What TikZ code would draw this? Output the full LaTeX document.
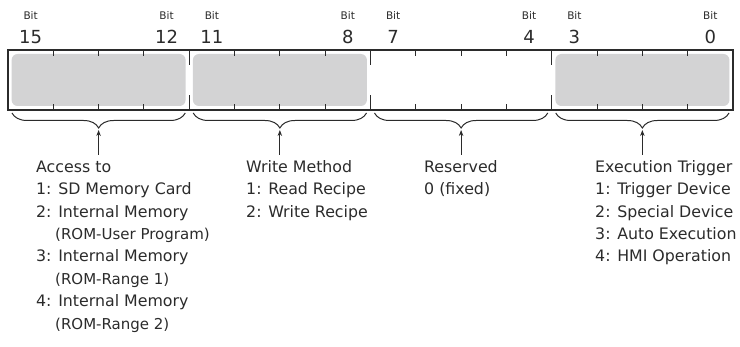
\documentclass[tikz,border=0pt]{standalone}
\usepackage{fontspec}
\setmainfont{DejaVu Sans}
\usetikzlibrary{decorations.pathreplacing,arrows.meta}
\definecolor{ink}{HTML}{2B2B2B}
\definecolor{fieldgray}{HTML}{D3D3D4}
\begin{document}
\begin{tikzpicture}[x=1pt,y=-1pt,
  lbl/.style={anchor=base west,inner sep=0pt,text=ink,font=\fontsize{15.8}{18}\selectfont},
  sublbl/.style={anchor=base west,inner sep=0pt,text=ink,font=\fontsize{15}{17}\selectfont},
  bitword/.style={anchor=base,inner sep=0pt,text=ink,font=\fontsize{10.5}{12}\selectfont},
  bitnum/.style={anchor=base,inner sep=0pt,text=ink,font=\fontsize{18}{20}\selectfont},
  field/.style={fill=fieldgray,rounded corners=6pt,draw=none,inner sep=0pt,minimum width=174pt,minimum height=52pt},
  regbox/.style={draw=ink,line width=1.2pt,inner sep=0pt,minimum width=725pt,minimum height=60pt},
  tickline/.style={draw=ink,line width=1pt},
  fbrace/.style={draw=ink,line width=1pt,decorate,decoration={brace,mirror,amplitude=15pt}},
  uparrow/.style={draw=ink,line width=1pt,-{Stealth[length=6pt,width=4.5pt]}}
]
\useasboundingbox (0,0) rectangle (740,347);

% gray fields
\node[field] (f1) at (98.6,80) {};
\node[field] (f2) at (279.9,80) {};
\node[field] (f4) at (642.4,80) {};

% register outline
\node[regbox] (reg) at (370.5,80) {};

% ticks
\foreach \k in {1,2,3,5,6,7,9,10,11,13,14,15}{
  \coordinate (tt\k) at ({8+45.3125*\k},50);
  \coordinate (tb\k) at ({8+45.3125*\k},110);
  \draw[tickline] (tt\k) -- ++(0,6);
  \draw[tickline] (tb\k) -- ++(0,-6);
}
\foreach \k in {4,8,12}{
  \coordinate (st\k) at ({8+45.3125*\k},50);
  \coordinate (sb\k) at ({8+45.3125*\k},110);
  \draw[tickline] (st\k) -- ++(0,15);
  \draw[tickline] (sb\k) -- ++(0,-15);
}

% bit labels
\foreach \b in {15,12,11,8,7,4,3,0}{
  \node[bitword] (bw\b) at ({8+45.3125*(15-\b+0.5)},20) {Bit};
  \node[bitnum] (bn\b) at ({8+45.3125*(15-\b+0.5)},43.3) {\b};
}

% braces and arrows
\foreach \i in {1,2,3,4}{
  \coordinate (bl\i) at ({8+181.25*(\i-1)+4},113);
  \coordinate (br\i) at ({8+181.25*(\i-1)+177.25},113);
  \coordinate (tip\i) at ({8+181.25*(\i-1)+90.6},130);
  \coordinate (tail\i) at ({8+181.25*(\i-1)+90.6},155);
  \draw[fbrace] (bl\i) -- (br\i);
  \draw[uparrow] (tail\i) -- (tip\i);
}

% texts group 1
\node[lbl] (a0) at (36,172.3) {Access to};
\node[lbl] (a1) at (36,194.7) {1: SD Memory Card};
\node[lbl] (a2) at (36,217.1) {2: Internal Memory};
\node[sublbl] (a2s) at (55,239.5) {(ROM-User Program)};
\node[lbl] (a3) at (36,261.9) {3: Internal Memory};
\node[sublbl] (a3s) at (55,284.3) {(ROM-Range 1)};
\node[lbl] (a4) at (36,306.7) {4: Internal Memory};
\node[sublbl] (a4s) at (55,329.1) {(ROM-Range 2)};

% group 2
\node[lbl] (w0) at (246,172.3) {Write Method};
\node[lbl] (w1) at (246,194.7) {1: Read Recipe};
\node[lbl] (w2) at (246,217.1) {2: Write Recipe};

% group 3
\node[lbl] (r0) at (424,172.3) {Reserved};
\node[lbl] (r1) at (424,194.7) {0 (fixed)};

% group 4
\node[lbl] (e0) at (595,172.3) {Execution Trigger};
\node[lbl] (e1) at (595,194.7) {1: Trigger Device};
\node[lbl] (e2) at (595,217.1) {2: Special Device};
\node[lbl] (e3) at (595,239.5) {3: Auto Execution};
\node[lbl] (e4) at (595,261.9) {4: HMI Operation};
\end{tikzpicture}
\end{document}
